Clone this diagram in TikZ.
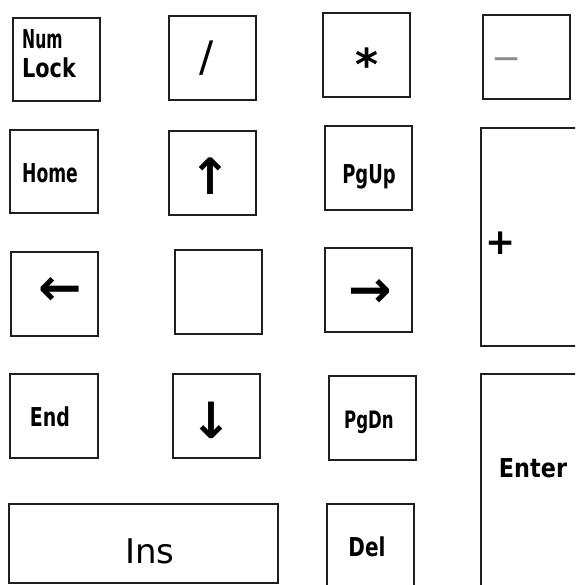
\documentclass[tikz,border=0pt]{standalone}
\usepackage{fontspec}
\usepackage{graphicx}
\setmainfont{DejaVu Sans}
\newcommand{\kl}[2]{\scalebox{#1}[1]{#2}}
\begin{document}
\begin{tikzpicture}[x=1pt,y=-1pt,
  keybox/.style={draw=black!88,line width=1.6pt,anchor=north west},
  lbl/.style={inner sep=0pt,font=\bfseries\fontsize{26}{29}\selectfont},
  sym/.style={inner sep=0pt,font=\fontsize{40}{44}\selectfont}]
\clip (0,0) rectangle (575,585);
\useasboundingbox (0,0) rectangle (575,585);
% boxes
\node[keybox,minimum width=87pt,minimum height=83pt] (numlock) at (12,17) {};
\node[keybox,minimum width=87pt,minimum height=84pt] (slash) at (168,15) {};
\node[keybox,minimum width=87pt,minimum height=84pt] (star) at (322,12) {};
\node[keybox,minimum width=87pt,minimum height=84pt] (minus) at (482,14) {};
\node[keybox,minimum width=88pt,minimum height=83pt] (home) at (9,129) {};
\node[keybox,minimum width=87pt,minimum height=84pt] (up) at (168,130) {};
\node[keybox,minimum width=87pt,minimum height=84pt] (pgup) at (324,125) {};
\node[keybox,minimum width=120pt,minimum height=218pt] (plus) at (480,127) {};
\node[keybox,minimum width=87pt,minimum height=84pt] (left) at (10,251) {};
\node[keybox,minimum width=87pt,minimum height=84pt] (five) at (174,249) {};
\node[keybox,minimum width=87pt,minimum height=84pt] (right) at (324,247) {};
\node[keybox,minimum width=88pt,minimum height=84pt] (end) at (9,373) {};
\node[keybox,minimum width=87pt,minimum height=84pt] (down) at (172,373) {};
\node[keybox,minimum width=87pt,minimum height=84pt] (pgdn) at (328,375) {};
\node[keybox,minimum width=120pt,minimum height=240pt] (enter) at (480,373) {};
\node[keybox,minimum width=269pt,minimum height=79pt] (ins) at (8,503) {};
\node[keybox,minimum width=87pt,minimum height=110pt] (del) at (326,503) {};
% labels
\node[lbl,align=left,anchor=west] (tnum) at (22,54) {\kl{0.6}{Num}\\\kl{0.8}{Lock}};
\node[sym,font=\fontsize{42}{46}\selectfont] (tslash) at (207,58) {/};
\node[sym,font=\bfseries\fontsize{44}{48}\selectfont] (tstar) at (367,64) {*};
\node[sym,text=black!45,font=\fontsize{36}{40}\selectfont] (tminus) at (507,64) {−};
\node[lbl] (thome) at (50,173) {\kl{0.66}{Home}};
\node[sym,font=\bfseries\fontsize{50}{54}\selectfont] (tup) at (210,176) {↑};
\node[lbl] (tpgup) at (369,177) {\kl{0.69}{PgUp}};
\node[sym,font=\bfseries\fontsize{36}{40}\selectfont] (tplus) at (501,243) {+};
\node[sym,font=\bfseries\fontsize{52}{56}\selectfont] (tleft) at (60,291) {←};
\node[sym,font=\bfseries\fontsize{52}{56}\selectfont] (tright) at (370,293) {→};
\node[lbl] (tend) at (50,417) {\kl{0.73}{End}};
\node[sym,font=\bfseries\fontsize{50}{54}\selectfont] (tdown) at (211,420) {↓};
\node[lbl,font=\bfseries\fontsize{24}{26}\selectfont] (tpgdn) at (369,422) {\kl{0.69}{PgDn}};
\node[lbl] (tdel) at (367,547) {\kl{0.77}{Del}};
\node[lbl] (tenter) at (533,468) {\kl{0.86}{Enter}};
\node[sym,font=\fontsize{34}{40}\selectfont] (tins) at (150,551) {Ins};
\end{tikzpicture}
\end{document}
